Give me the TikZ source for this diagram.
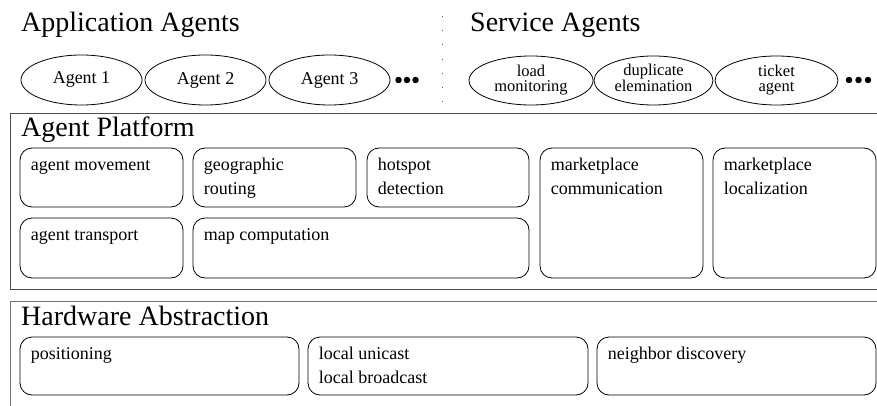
\documentclass[tikz,border=0pt]{standalone}
\usepackage{fontspec}
\setmainfont{Liberation Serif}
\usetikzlibrary{shapes.geometric}
\newcommand\toplines[2]{\begin{tabular}[t]{@{}l@{}}#1\\#2\end{tabular}}
\newcommand\midlines[2]{\begin{tabular}{@{}c@{}}#1\\#2\end{tabular}}
\begin{document}
\begin{tikzpicture}[x=1pt,y=-1pt,
  title/.style={font=\fontsize{28}{32}\selectfont, inner sep=0pt, anchor=base west},
  agent/.style={draw, ellipse, inner sep=0pt, minimum width=121pt, minimum height=50pt, font=\fontsize{18}{20}\selectfont, line width=0.8pt},
  sagent/.style={agent, minimum height=49pt, font=\fontsize{16.5}{15.5}\selectfont},
  module/.style={draw, rounded corners=12pt, line width=0.8pt, inner sep=0pt},
  modlabel/.style={font=\fontsize{18}{24}\selectfont, inner sep=0pt, anchor=base west},
  layer/.style={draw=black!70, line width=0.9pt},
  more/.style={circle, fill, inner sep=0pt, minimum size=6.5pt}]
\useasboundingbox (0,0) rectangle (877,406);
\clip (0,0) rectangle (877,406);

% titles
\node[title] (tApp) at (21,32) {Application Agents};
\node[title] (tSrv) at (470,32) {Service Agents};

% separator
\coordinate (sepTop) at (442.5,16);
\coordinate (sepBot) at (442.5,103);
\draw[black!60, line width=1pt, dash pattern=on 1pt off 13.2pt] (sepTop) -- (sepBot);

% application agents
\node[agent] (a1) at (81.5,80) {Agent 1};
\node[agent] (a2) at (205.5,80) {Agent 2};
\node[agent] (a3) at (329.5,80) {Agent 3};
\node[more] (d1) at (398.5,80) {};
\node[more] (d2) at (407,80) {};
\node[more] (d3) at (415.5,80) {};

% service agents
\node[sagent, minimum width=124pt] (s1) at (531,80.5) {\midlines{load}{monitoring}};
\node[sagent, minimum width=119pt] (s2) at (653.5,80.5) {\midlines{duplicate}{elemination}};
\node[sagent, minimum width=123pt] (s3) at (776.5,80.5) {\midlines{ticket}{agent}};
\node[more] (e1) at (849,80) {};
\node[more] (e2) at (858.5,80) {};
\node[more] (e3) at (868,80) {};

% agent platform layer
\node[layer, draw, inner sep=0pt, minimum width=900pt, minimum height=175.5pt, anchor=north west] (plat) at (10,113) {};
\node[title] (tPlat) at (21,137) {Agent Platform};

\node[module, minimum width=163pt, minimum height=59pt] (mv) at (101.5,177.5) {};
\node[module, minimum width=163pt, minimum height=59pt] (gr) at (274.5,177.5) {};
\node[module, minimum width=162pt, minimum height=59pt] (hs) at (448,177.5) {};
\node[module, minimum width=163pt, minimum height=130pt] (mc) at (621.5,213) {};
\node[module, minimum width=163pt, minimum height=130pt] (ml) at (794.5,213) {};
\node[module, minimum width=163pt, minimum height=60pt] (tr) at (101.5,248) {};
\node[module, minimum width=336pt, minimum height=60pt] (mp) at (361,248) {};

\node[modlabel] (lmv) at ([shift={(11pt,-23pt)}]mv.north west) {agent movement};
\node[modlabel] (lgr) at ([shift={(11pt,-23pt)}]gr.north west) {\toplines{geographic}{routing}};
\node[modlabel] (lhs) at ([shift={(11pt,-23pt)}]hs.north west) {\toplines{hotspot}{detection}};
\node[modlabel] (lmc) at ([shift={(11pt,-23pt)}]mc.north west) {\toplines{marketplace}{communication}};
\node[modlabel] (lml) at ([shift={(11pt,-23pt)}]ml.north west) {\toplines{marketplace}{localization}};
\node[modlabel] (ltr) at ([shift={(11pt,-23pt)}]tr.north west) {agent transport};
\node[modlabel] (lmp) at ([shift={(11pt,-23pt)}]mp.north west) {map computation};

% hardware abstraction layer
\node[layer, draw=black!55, line width=1.3pt, inner sep=0pt, minimum width=900pt, minimum height=140pt, anchor=north west] (hw) at (10,301) {};
\node[title] (tHw) at (21,325) {Hardware Abstraction};

\node[module, minimum width=279pt, minimum height=58pt] (pos) at (159.5,366) {};
\node[module, minimum width=280pt, minimum height=58pt] (loc) at (448,366) {};
\node[module, minimum width=279pt, minimum height=58pt] (nd) at (736.5,366) {};

\node[modlabel] (lpos) at ([shift={(11pt,-23pt)}]pos.north west) {positioning};
\node[modlabel] (lloc) at ([shift={(11pt,-23pt)}]loc.north west) {\toplines{local unicast}{local broadcast}};
\node[modlabel] (lnd) at ([shift={(11pt,-23pt)}]nd.north west) {neighbor discovery};
\end{tikzpicture}
\end{document}
